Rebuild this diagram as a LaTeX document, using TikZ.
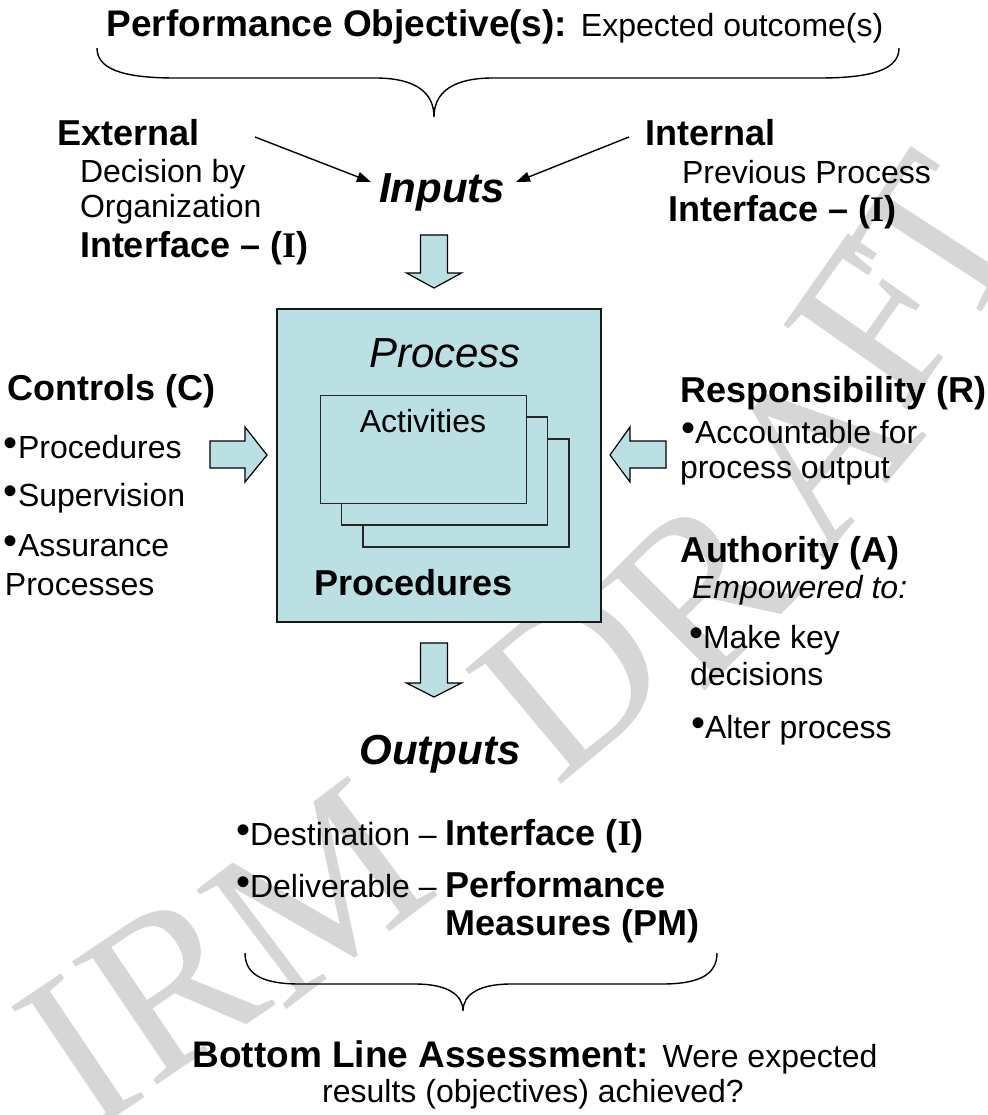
\documentclass[tikz,border=0pt]{standalone}
\usepackage{fontspec}
\setmainfont{Liberation Sans}
\newfontfamily\serifI{Liberation Serif}
\newfontfamily\wmserif{Liberation Serif}
\usetikzlibrary{arrows.meta}
\definecolor{lb}{RGB}{187,224,227}
\definecolor{wm}{RGB}{214,214,214}
\newcommand\fB{\fontsize{36}{40}\selectfont\bfseries}
\newcommand\fT{\fontsize{37}{41}\selectfont\bfseries}
\newcommand\fR{\fontsize{32}{36}\selectfont\mdseries\upshape}
\newcommand\fI{\fontsize{42}{46}\selectfont\itshape}
\newcommand\fBI{\fontsize{42}{46}\selectfont\bfseries\itshape}
\newcommand\bul{{\fontsize{40}{40}\selectfont\raisebox{1.5pt}{•}}}
\newcommand\romI{{\serifI\bfseries I}}
\newcommand\wmfont{\fontsize{228}{228}\selectfont\wmserif}
\begin{document}
\begin{tikzpicture}[x=1pt,y=-1pt,
  txt/.style={inner sep=0pt, outer sep=0pt, anchor=base west},
  ctxt/.style={inner sep=0pt, outer sep=0pt, anchor=base},
  wml/.style={inner sep=0pt, outer sep=0pt, anchor=center, text=wm, font=\wmfont},
  blk/.style={draw=black, fill=lb, line width=1.2pt, line join=miter},
  brace/.style={draw=black, line width=1.4pt},
  ptr/.style={draw=black, line width=1.4pt, -{Triangle[length=14pt,width=10pt]}},
  stack/.style={draw=black!85, fill=lb, line width=1.5pt, inner sep=0pt},
  procbox/.style={draw=black!90, fill=lb, line width=2pt, inner sep=0pt}]
\fill[white] (0,0) rectangle (987,1115);
\useasboundingbox (0,0) rectangle (987,1115);
% watermark
\node[wml, rotate=34] (wI) at (78,1052) {I};
\node[wml, rotate=34] (wR1) at (172,985) {R};
\node[wml, rotate=37] (wM) at (318,893) {M};
\node[wml, rotate=40] (wD) at (572,679) {D};
\node[wml, rotate=45] (wR2) at (700,590) {R};
\node[wml, rotate=50] (wA) at (818,449) {A};
\node[wml, rotate=55] (wF) at (878,322) {F};
\node[wml, rotate=57] (wT) at (938,242) {T};
% title and top brace
\node[ctxt] (title) at (495,37) {\fT Performance Objective(s): {\fR Expected outcome(s)}};
\draw[brace] (97,48) .. controls (97,68) and (120,78) .. (175,78) -- (375,78)
  .. controls (415,78) and (434,92) .. (434,117)
  .. controls (434,92) and (453,78) .. (493,78) -- (820,78)
  .. controls (876,78) and (899,68) .. (899,48);
% inputs
\node[txt] (ext) at (57,146) {\fB External};
\node[txt] (ext1) at (80,183) {\fR Decision by};
\node[txt] (ext2) at (80,218) {\fR Organization};
\node[txt] (ext3) at (80,257) {\fB Interface -- (\romI)};
\node[txt] (int) at (645,146) {\fB Internal};
\node[txt] (int1) at (682,184) {\fR Previous Process};
\node[txt] (int2) at (668,222) {\fB Interface -- (\romI)};
\node[ctxt] (inputs) at (442,203) {\fBI Inputs};
\coordinate (ea) at (255,137);
\coordinate (eb) at (371,182);
\coordinate (ia) at (629,137);
\coordinate (ib) at (516,182);
\draw[ptr] (ea) -- (eb);
\draw[ptr] (ia) -- (ib);
% down arrow 1
\draw[blk] (420.5,235) -- (447.5,235) -- (447.5,273) -- (461.5,273) -- (434,288) -- (406.5,273) -- (420.5,273) -- cycle;
% process box
\node[procbox, minimum width=324pt, minimum height=313pt] (proc) at (439,465.5) {};
\node[ctxt] (ptitle) at (445,367) {\fI Process};
\node[stack, minimum width=206pt, minimum height=108pt] (act3) at (466,493) {};
\node[stack, minimum width=206pt, minimum height=108pt] (act2) at (444.5,471) {};
\node[stack, minimum width=206pt, minimum height=108pt] (act1) at (423.5,449.5) {};
\node[ctxt] (acttxt) at (423,432) {\fR Activities};
\node[txt] (proced) at (314,595) {\fB Procedures};
% controls
\node[txt] (ctl) at (8,400) {\fB Controls (C)};
\node[txt] (ctl1) at (4,458) {\fR\bul Procedures};
\node[txt] (ctl2) at (4,506) {\fR\bul Supervision};
\node[txt] (ctl3) at (4,556) {\fR\bul Assurance};
\node[txt] (ctl4) at (5,595) {\fR Processes};
\draw[blk] (210,441) -- (245,441) -- (245,427) -- (267,455) -- (245,482) -- (245,468) -- (210,468) -- cycle;
% responsibility / authority
\node[txt] (resp) at (680,402) {\fB Responsibility (R)};
\node[txt] (resp1) at (681,443) {\fR\bul Accountable for};
\node[txt] (resp2) at (680,478) {\fR process output};
\node[txt] (auth) at (680,562) {\fB Authority (A)};
\node[txt] (auth0) at (692,598) {\fR\itshape Empowered to:};
\node[txt] (auth1) at (689,648) {\fR\bul Make key};
\node[txt] (auth2) at (690,685) {\fR decisions};
\node[txt] (auth3) at (691,738) {\fR\bul Alter process};
\draw[blk] (666,441) -- (666,468) -- (630,468) -- (630,482) -- (610,455) -- (630,427) -- (630,441) -- cycle;
% outputs
\draw[blk] (420.5,643) -- (447.5,643) -- (447.5,683) -- (461.5,683) -- (434,697) -- (406.5,683) -- (420.5,683) -- cycle;
\node[ctxt] (outputs) at (440,764) {\fBI Outputs};
\node[txt] (dest) at (236,845) {\fR\bul Destination -- \null};
\node[txt] (destI) at (dest.base east) {\fB Interface (\romI)};
\node[txt] (deliv) at (236,897) {\fR\bul Deliverable -- \null};
\node[txt] (perf) at (deliv.base east) {\fB Performance};
\node[txt] (meas) at ([yshift=-38pt]perf.base west) {\fB Measures (PM)};
% bottom brace
\draw[brace] (245,953) .. controls (245,973) and (260,984) .. (300,984) -- (415,984)
  .. controls (448,984) and (463,995) .. (463,1011)
  .. controls (463,995) and (478,984) .. (511,984) -- (662,984)
  .. controls (702,984) and (717,973) .. (717,953);
\node[ctxt] (bott) at (535,1067) {\fT Bottom Line Assessment: {\fR Were expected}};
\node[ctxt] (bott2) at (533,1102) {\fR results (objectives) achieved?};
\end{tikzpicture}
\end{document}
